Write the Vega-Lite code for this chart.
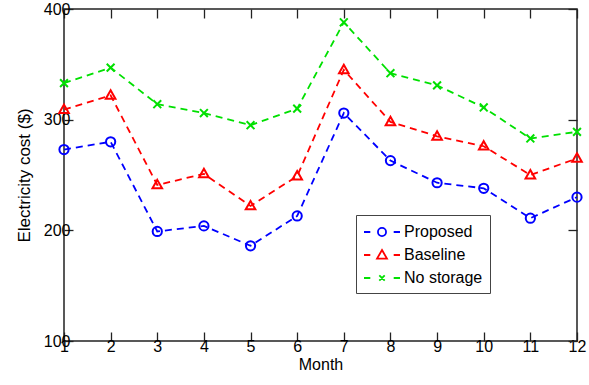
{
  "$schema": "https://vega.github.io/schema/vega-lite/v6.json",
  "autosize": "none",
  "width": 513,
  "height": 332,
  "padding": {"left": 64, "top": 9, "right": 12, "bottom": 44},
  "background": "white",
  "config": {
    "font": "Liberation Sans",
    "view": {"stroke": "#222", "strokeWidth": 1.5},
    "axis": {"labelFont": "Liberation Sans", "titleFont": "Liberation Sans", "labelFontSize": 16, "titleFontSize": 16, "titleFontWeight": "normal", "labelColor": "#000", "titleColor": "#000", "domain": false, "grid": false, "tickColor": "#222", "tickWidth": 1.3, "tickSize": -9},
    "legend": {"orient": "none", "legendX": 292, "legendY": 206, "strokeColor": "#444", "fillColor": "white", "padding": 7, "labelFontSize": 16, "labelFont": "Liberation Sans", "labelColor": "#000", "symbolSize": 324, "symbolStrokeWidth": 1.8, "symbolOffset": 9, "labelOffset": 12, "rowPadding": 5}
  },
  "data": {"values": [
    {"month": 1, "series": "Proposed", "cost": 273},
    {"month": 2, "series": "Proposed", "cost": 280},
    {"month": 3, "series": "Proposed", "cost": 199},
    {"month": 4, "series": "Proposed", "cost": 204},
    {"month": 5, "series": "Proposed", "cost": 186},
    {"month": 6, "series": "Proposed", "cost": 213},
    {"month": 7, "series": "Proposed", "cost": 306},
    {"month": 8, "series": "Proposed", "cost": 263},
    {"month": 9, "series": "Proposed", "cost": 243},
    {"month": 10, "series": "Proposed", "cost": 238},
    {"month": 11, "series": "Proposed", "cost": 211},
    {"month": 12, "series": "Proposed", "cost": 230},
    {"month": 1, "series": "Baseline", "cost": 309},
    {"month": 2, "series": "Baseline", "cost": 322},
    {"month": 3, "series": "Baseline", "cost": 241},
    {"month": 4, "series": "Baseline", "cost": 251},
    {"month": 5, "series": "Baseline", "cost": 222},
    {"month": 6, "series": "Baseline", "cost": 249},
    {"month": 7, "series": "Baseline", "cost": 345},
    {"month": 8, "series": "Baseline", "cost": 298},
    {"month": 9, "series": "Baseline", "cost": 285},
    {"month": 10, "series": "Baseline", "cost": 276},
    {"month": 11, "series": "Baseline", "cost": 250},
    {"month": 12, "series": "Baseline", "cost": 265},
    {"month": 1, "series": "No storage", "cost": 333},
    {"month": 2, "series": "No storage", "cost": 347},
    {"month": 3, "series": "No storage", "cost": 314},
    {"month": 4, "series": "No storage", "cost": 306},
    {"month": 5, "series": "No storage", "cost": 295},
    {"month": 6, "series": "No storage", "cost": 310},
    {"month": 7, "series": "No storage", "cost": 388},
    {"month": 8, "series": "No storage", "cost": 342},
    {"month": 9, "series": "No storage", "cost": 331},
    {"month": 10, "series": "No storage", "cost": 311},
    {"month": 11, "series": "No storage", "cost": 283},
    {"month": 12, "series": "No storage", "cost": 289}
  ]},
  "layer": [
    {
      "mark": {"type": "line", "strokeDash": [7, 5], "strokeWidth": 1.8},
      "encoding": {
        "x": {"field": "month", "type": "quantitative", "scale": {"domain": [1, 12], "nice": false}, "axis": {"orient": "bottom", "values": [1,2,3,4,5,6,7,8,9,10,11,12], "title": "Month", "labelPadding": 6, "titlePadding": 2, "labelFlush": false}},
        "y": {"field": "cost", "type": "quantitative", "scale": {"domain": [100, 400], "nice": false, "zero": false}, "axis": {"orient": "left", "values": [100, 200, 300, 400], "title": "Electricity cost ($)", "labelPadding": 3, "titlePadding": 10, "titleFontSize": 17}},
        "color": {"field": "series", "type": "nominal", "scale": {"domain": ["Proposed", "Baseline", "No storage"], "range": ["#0000ff", "#ff0000", "#00e000"]}, "legend": null}
      }
    },
    {
      "mark": {"type": "point", "filled": false, "strokeWidth": 2, "opacity": 1},
      "encoding": {
        "x": {"field": "month", "type": "quantitative", "axis": {"orient": "top", "values": [1,2,3,4,5,6,7,8,9,10,11,12], "labels": false, "title": null}},
        "y": {"field": "cost", "type": "quantitative", "axis": {"orient": "right", "values": [100, 200, 300, 400], "labels": false, "title": null}},
        "color": {"field": "series", "type": "nominal", "scale": {"domain": ["Proposed", "Baseline", "No storage"], "range": ["#0000ff", "#ff0000", "#00e000"]}, "legend": null},
        "shape": {"field": "series", "type": "nominal", "scale": {"domain": ["Proposed", "Baseline", "No storage"], "range": ["circle", "M0,-0.9L0.85,0.6L-0.85,0.6Z", "M-0.6,-0.6L0.6,0.6M-0.6,0.6L0.6,-0.6"]}, "legend": null},
        "size": {"field": "series", "type": "nominal", "scale": {"domain": ["Proposed", "Baseline", "No storage"], "range": [85, 170, 70]}, "legend": null}
      }
    },
    {
      "transform": [{"filter": "datum.month > 100"}],
      "mark": {"type": "point", "filled": false, "strokeWidth": 1.8, "opacity": 1},
      "encoding": {
        "x": {"field": "month", "type": "quantitative", "axis": null},
        "y": {"field": "cost", "type": "quantitative", "axis": null},
        "color": {"field": "series", "type": "nominal", "scale": {"domain": ["Proposed", "Baseline", "No storage"], "range": ["#0000ff", "#ff0000", "#00e000"]}, "legend": {"orient": "none", "legendX": 292, "legendY": 206, "title": null}},
        "shape": {"field": "series", "type": "nominal", "scale": {"domain": ["Proposed", "Baseline", "No storage"], "range": ["M-2,0H-1.3M1.3,0H2M0.45,0A0.45,0.45 0 1 1 -0.45,0A0.45,0.45 0 1 1 0.45,0", "M-2,0H-1.3M1.3,0H2M0,-0.55L0.55,0.4L-0.55,0.4Z", "M-2,0H-1.3M1.3,0H2M-0.3,-0.3L0.3,0.3M-0.3,0.3L0.3,-0.3"]},
          "legend": {"orient": "none", "legendX": 292, "legendY": 206, "title": null}}
      }
    }
  ],
  "resolve": {"scale": {"shape": "independent", "color": "independent"}, "axis": {"x": "independent", "y": "independent"}}
}
